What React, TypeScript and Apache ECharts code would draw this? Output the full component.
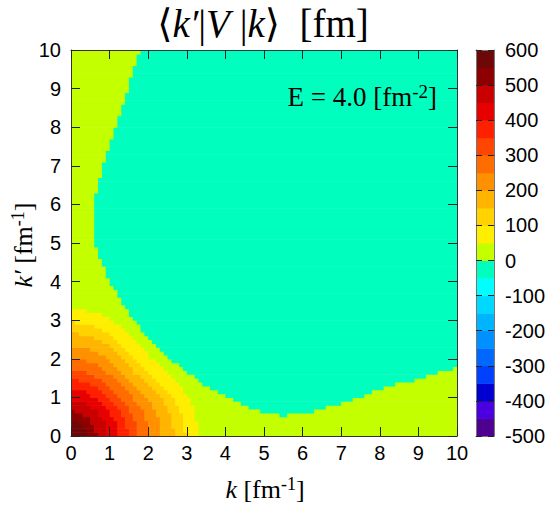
import { useEffect, useRef } from "react";
import * as echarts from "echarts";

// ---- axes ----
const kMin = 0;
const kMax = 10;
const kInterval = 1;
const cbMin = -500;
const cbMax = 600;
const cbInterval = 100;
const bandWidth = 50;
const cellSize = 0.1;

// ---- colour bands from -500 (bottom) to 600 (top), 50 wide ----
const bandColors = [
  "#500090", "#4a00e0", "#0000d0", "#0040ff", "#0068ff", "#0090ff",
  "#00b4ff", "#00d8ff", "#00ffff", "#00ffbe", "#c4ff00", "#ffee00",
  "#ffd200", "#ffb400", "#ff9000", "#ff6c00", "#ff4600", "#ff2000",
  "#e60000", "#c80000", "#8e0000", "#6e0808",
];

// ---- positive contour levels ----
const levels = [50, 100, 150, 200, 250, 300, 350, 400, 450, 500, 550];
// angle (deg) from the k axis, folded into [0, 45]
const contourAngles = [0, 15, 30, 45];
// radius of each level's contour (fm^-1) at those angles
const contour50 = [3.3, 3.25, 3.04, 2.88];
const contour100 = [2.96, 2.9, 2.7, 2.55];
const contour150 = [2.67, 2.62, 2.45, 2.32];
const contour200 = [2.34, 2.3, 2.17, 2.07];
const contour250 = [2.02, 1.99, 1.9, 1.83];
const contour300 = [1.73, 1.71, 1.64, 1.59];
const contour350 = [1.47, 1.45, 1.41, 1.38];
const contour400 = [1.22, 1.21, 1.18, 1.16];
const contour450 = [0.95, 0.94, 0.93, 0.92];
const contour500 = [0.66, 0.66, 0.65, 0.65];
const contour550 = [0.4, 0.4, 0.4, 0.4];
const contourRadii = [
  contour50, contour100, contour150, contour200, contour250, contour300,
  contour350, contour400, contour450, contour500, contour550,
];

// ---- zero contour (boundary between 0..50 and -50..0) ----
// lower-right branch: k -> k'
const zeroLowerK = [2.28, 2.5, 3.0, 3.5, 4.0, 4.5, 5.0, 5.5, 6.0, 6.5, 7.0, 7.5, 8.0, 8.5, 9.0, 9.5, 10.0];
const zeroLowerKp = [2.28, 2.05, 1.68, 1.31, 1.06, 0.81, 0.61, 0.54, 0.58, 0.71, 0.86, 1.03, 1.21, 1.37, 1.47, 1.66, 1.78];
// upper-left branch: k' -> k
const zeroUpperKp = [2.28, 2.5, 3.0, 3.5, 4.0, 4.5, 5.0, 5.5, 6.0, 6.5, 7.0, 7.5, 8.0, 8.5, 9.0, 9.5, 10.0];
const zeroUpperK = [2.28, 2.07, 1.62, 1.3, 1.02, 0.78, 0.63, 0.57, 0.6, 0.7, 0.83, 0.98, 1.16, 1.31, 1.47, 1.61, 1.79];

function interp(xs: number[], ys: number[], x: number): number {
  if (x <= xs[0]) return ys[0];
  for (let i = 1; i < xs.length; i++) {
    if (x <= xs[i]) {
      const t = (x - xs[i - 1]) / (xs[i] - xs[i - 1]);
      return ys[i - 1] + t * (ys[i] - ys[i - 1]);
    }
  }
  return ys[ys.length - 1];
}

function cellValue(k: number, kp: number): number {
  const r = Math.hypot(k, kp);
  let ang = (Math.atan2(kp, k) * 180) / Math.PI;
  if (ang > 45) ang = 90 - ang;
  for (let li = levels.length - 1; li >= 0; li--) {
    if (r < interp(contourAngles, contourRadii[li], ang)) return levels[li] + bandWidth / 2;
  }
  if (k >= kp) {
    if (k >= zeroLowerK[0] && kp > interp(zeroLowerK, zeroLowerKp, k)) return -bandWidth / 2;
  } else {
    if (kp >= zeroUpperKp[0] && k > interp(zeroUpperKp, zeroUpperK, kp)) return -bandWidth / 2;
  }
  return bandWidth / 2;
}

function colorOf(v: number): string {
  const idx = Math.max(0, Math.min(bandColors.length - 1, Math.floor((v - cbMin) / bandWidth)));
  return bandColors[idx];
}

// rows of cells, merged into runs of equal band: [k0, k1, kpCenter, value]
function buildRuns(): number[][] {
  const n = Math.round((kMax - kMin) / cellSize);
  const runs: number[][] = [];
  for (let j = 0; j < n; j++) {
    const kp = kMin + (j + 0.5) * cellSize;
    let start = 0;
    let cur = cellValue(kMin + 0.5 * cellSize, kp);
    for (let i = 1; i <= n; i++) {
      const v = i < n ? cellValue(kMin + (i + 0.5) * cellSize, kp) : NaN;
      if (v !== cur) {
        runs.push([kMin + start * cellSize, kMin + i * cellSize, kp, cur]);
        start = i;
        cur = v;
      }
    }
  }
  return runs;
}

function buildColorbar(): number[][] {
  const out: number[][] = [];
  for (let i = 0; i < bandColors.length; i++) {
    const lo = cbMin + i * bandWidth;
    out.push([lo, lo + bandWidth, lo + bandWidth / 2]);
  }
  return out;
}

const sans = "'Liberation Sans', Arial, Helvetica, sans-serif";
const serif = "'Liberation Serif', 'Times New Roman', 'DejaVu Serif', serif";

export default function App() {
  const ref = useRef<HTMLDivElement>(null);
  useEffect(() => {
    if (!ref.current) return;
    const chart = echarts.init(ref.current, null, { renderer: "svg" });
    const frameColor = "#333";
    const tickStyle = { color: "#222", width: 1 };
    const labelStyle = { fontSize: 20, color: "#000", fontFamily: sans };
    const mainX = (pos: "bottom" | "top", showLabel: boolean) => ({
      type: "value",
      gridIndex: 0,
      position: pos,
      min: kMin,
      max: kMax,
      interval: kInterval,
      z: 10,
      axisLine: { show: true, onZero: false, lineStyle: { color: frameColor, width: 1 } },
      axisTick: { show: true, inside: true, length: 9, lineStyle: tickStyle },
      axisLabel: { show: showLabel, margin: 7, ...labelStyle },
      splitLine: { show: false },
    });
    const mainY = (pos: "left" | "right", showLabel: boolean) => ({
      type: "value",
      gridIndex: 0,
      position: pos,
      min: kMin,
      max: kMax,
      interval: kInterval,
      z: 10,
      axisLine: { show: true, onZero: false, lineStyle: { color: frameColor, width: 1 } },
      axisTick: { show: true, inside: true, length: 9, lineStyle: tickStyle },
      axisLabel: { show: showLabel, margin: 10, ...labelStyle },
      splitLine: { show: false },
    });
    const cbX = (pos: "bottom" | "top") => ({
      type: "value",
      gridIndex: 1,
      position: pos,
      min: 0,
      max: 1,
      z: 10,
      axisLine: { show: true, onZero: false, lineStyle: { color: "#777", width: 1 } },
      axisTick: { show: false },
      axisLabel: { show: false },
      splitLine: { show: false },
    });
    const cbY = (pos: "left" | "right", showLabel: boolean) => ({
      type: "value",
      gridIndex: 1,
      position: pos,
      min: cbMin,
      max: cbMax,
      interval: cbInterval,
      z: 10,
      axisLine: { show: true, onZero: false, lineStyle: { color: "#777", width: 1 } },
      axisTick: { show: true, inside: true, length: 6, lineStyle: tickStyle },
      axisLabel: { show: showLabel, margin: 11, align: "left", ...labelStyle },
      splitLine: { show: false },
    });
    const axisNameRich = {
      n: { fontFamily: serif, fontSize: 26, lineHeight: 28, fill: "#000" },
      i: { fontFamily: serif, fontSize: 26, lineHeight: 28, fontStyle: "italic", fill: "#000" },
      s: { fontFamily: serif, fontSize: 18, lineHeight: 18, verticalAlign: "top", fill: "#000" },
    };

    chart.setOption({
      animation: false,
      backgroundColor: "#fff",
      grid: [
        { left: 71, top: 50, width: 386, height: 386, containLabel: false },
        { left: 476, top: 50, width: 19, height: 386, containLabel: false },
      ],
      xAxis: [mainX("bottom", true), mainX("top", false), cbX("bottom"), cbX("top")],
      yAxis: [mainY("left", true), mainY("right", false), cbY("left", false), cbY("right", true)],
      series: [
        {
          type: "custom",
          xAxisIndex: 0,
          yAxisIndex: 0,
          clip: true,
          z: 1,
          progressive: 0,
          silent: true,
          data: buildRuns(),
          renderItem: (_p: any, api: any) => {
            const k0 = api.value(0);
            const k1 = api.value(1);
            const kp = api.value(2);
            const v = api.value(3);
            const a = api.coord([k0, kp + cellSize / 2]);
            const b = api.coord([k1, kp - cellSize / 2]);
            return {
              type: "rect",
              shape: { x: a[0], y: a[1], width: b[0] - a[0] + 0.6, height: b[1] - a[1] + 0.6 },
              style: { fill: colorOf(v) },
            };
          },
        },
        {
          type: "custom",
          xAxisIndex: 2,
          yAxisIndex: 2,
          z: 1,
          silent: true,
          data: buildColorbar(),
          renderItem: (_p: any, api: any) => {
            const lo = api.value(0);
            const hi = api.value(1);
            const mid = api.value(2);
            const a = api.coord([0, hi]);
            const b = api.coord([1, lo]);
            return {
              type: "rect",
              shape: { x: a[0], y: a[1], width: b[0] - a[0], height: b[1] - a[1] + 0.5 },
              style: { fill: colorOf(mid) },
            };
          },
        },
      ],
      graphic: [
        {
          type: "text",
          x: 263,
          y: 23,
          z: 20,
          style: {
            text: "{n|⟨}{i|k′}{n||}{i|V}{n| |}{i|k}{n|⟩  [fm]}",
            align: "center",
            verticalAlign: "middle",
            textAlign: "center",
            textVerticalAlign: "middle",
            fill: "#000",
            rich: {
              n: { fontFamily: serif, fontSize: 39, fill: "#000" },
              i: { fontFamily: serif, fontSize: 39, fontStyle: "italic", fill: "#000" },
            },
          },
        },
        {
          type: "text",
          x: 437,
          y: 97,
          z: 20,
          style: {
            text: "{n|E = 4.0 [fm}{s|-2}{n|]}",
            align: "right",
            verticalAlign: "middle",
            textAlign: "right",
            textVerticalAlign: "middle",
            fill: "#000",
            rich: {
              n: { fontFamily: serif, fontSize: 27, lineHeight: 30, fill: "#000" },
              s: { fontFamily: serif, fontSize: 19, lineHeight: 18, verticalAlign: "top", fill: "#000" },
            },
          },
        },
        {
          type: "text",
          x: 265,
          y: 489,
          z: 20,
          style: {
            text: "{i|k}{n| [fm}{s|-1}{n|]}",
            align: "center",
            verticalAlign: "middle",
            textAlign: "center",
            textVerticalAlign: "middle",
            fill: "#000",
            rich: axisNameRich,
          },
        },
        {
          type: "text",
          x: 23,
          y: 245,
          z: 20,
          rotation: Math.PI / 2,
          style: {
            text: "{i|k′}{n| [fm}{s|-1}{n|]}",
            align: "center",
            verticalAlign: "middle",
            textAlign: "center",
            textVerticalAlign: "middle",
            fill: "#000",
            rich: axisNameRich,
          },
        },
      ],
    });
    return () => chart.dispose();
  }, []);
  return (
    <div
      ref={ref}
      style={{ position: "absolute", left: 0, top: 0, width: 548, height: 505, background: "#fff" }}
    />
  );
}
